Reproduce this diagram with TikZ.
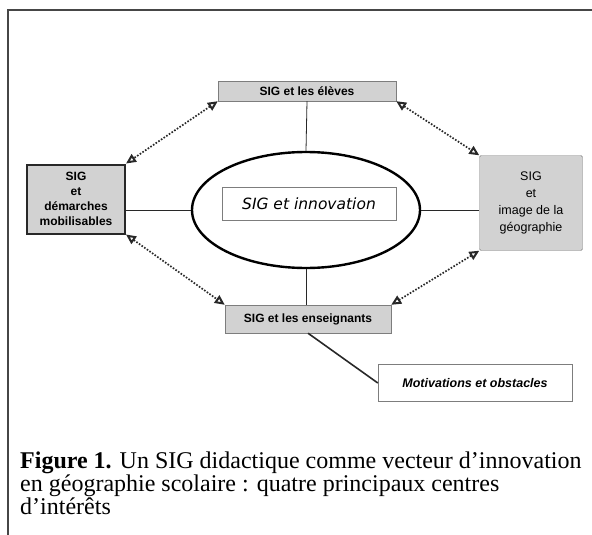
\documentclass[tikz,border=0pt]{standalone}
\usepackage{fontspec}
\setmainfont{Liberation Serif}
\setsansfont{Liberation Sans}
\newfontfamily\sgcomic{DejaVu Sans}
\usepackage{tikz}
\usetikzlibrary{arrows.meta,shapes.geometric}
\definecolor{sgframe}{RGB}{70,70,70}
\definecolor{sggray}{RGB}{210,210,210}
\definecolor{sgedge}{RGB}{125,125,125}
\definecolor{sgdark}{RGB}{40,40,40}
\tikzset{
  sgbox/.style={draw=sgedge, fill=sggray, align=center, inner sep=2pt, font=\sffamily\bfseries\fontsize{12}{15}\selectfont},
  sgboxdark/.style={sgbox, draw=sgdark, line width=2pt},
  sgboxlight/.style={sgbox, font=\sffamily\fontsize{12.5}{17}\selectfont, rounded corners=1.5pt},
  sgwhite/.style={draw=sgedge, fill=white, align=center, inner sep=2pt},
  sgring/.style={draw=black, ellipse, line width=2.4pt, inner sep=0pt},
  sgline/.style={draw=sgdark, line width=.8pt},
  sgarr/.style={{Triangle[open,length=10pt,width=9pt,line width=2pt]}-{Triangle[open,length=10pt,width=9pt,line width=2pt]}, dash pattern=on 1.6pt off 1.6pt, line width=1.7pt, draw=sgdark}
}
\lineskiplimit=-10pt

\begin{document}
\begin{tikzpicture}[x=1pt, y=-1pt]
  \useasboundingbox (0,0) rectangle (592,535);
  \draw[sgframe, line width=2pt] (592,10) -- (8,10) -- (8,535);
  % the centre
  \node[sgring, minimum width=228, minimum height=116] (ring) at (306,210) {};
  \node[sgwhite, minimum width=174, minimum height=33, font=\sgcomic\itshape\fontsize{15.5}{17}\selectfont] (innov) at (309,204) {SIG et innovation};
  % the four themes
  \node[sgbox, minimum width=178, minimum height=20] (eleves) at (307,91) {SIG et les élèves};
  \node[sgboxdark, minimum width=98, minimum height=69] (demarch) at (76,199) {SIG\\et\\démarches\\mobilisables};
  \node[sgboxlight, minimum width=103, minimum height=95] (image) at (531,203) {SIG\\et\\image de la\\géographie};
  \node[sgbox, minimum width=166, minimum height=28] (enseign) at (308,319) {SIG et les enseignants};
  \node[sgwhite, minimum width=194, minimum height=37, font=\sffamily\bfseries\itshape\fontsize{12.5}{14}\selectfont] (motiv) at (475,383) {Motivations et obstacles};
  % links
  \draw[sgline] (eleves.south) -- (ring.north);
  \draw[sgline] (ring.west) -- (ring.west -| demarch.east);
  \draw[sgline] (ring.east) -- (ring.east -| image.west);
  \draw[sgline] (ring.south) -- (ring.south |- enseign.north);
  \draw[sgline, line width=1.6pt] (enseign.south) -- (motiv.west);
  \draw[sgarr] (eleves.south west) -- (demarch.north east);
  \draw[sgarr] (eleves.south east) -- (image.north west);
  \draw[sgarr] (demarch.south east) -- (enseign.north west);
  \draw[sgarr] (image.south west) -- (enseign.north east);
  % caption
  \node[anchor=north west, align=left, inner sep=0pt, font=\fontsize{24}{22.6}\selectfont] (caption) at (20,452)
    {\textbf{Figure 1.} Un SIG didactique comme vecteur d’innovation\\en géographie scolaire : quatre principaux centres\\d’intérêts};
\end{tikzpicture}
\end{document}
